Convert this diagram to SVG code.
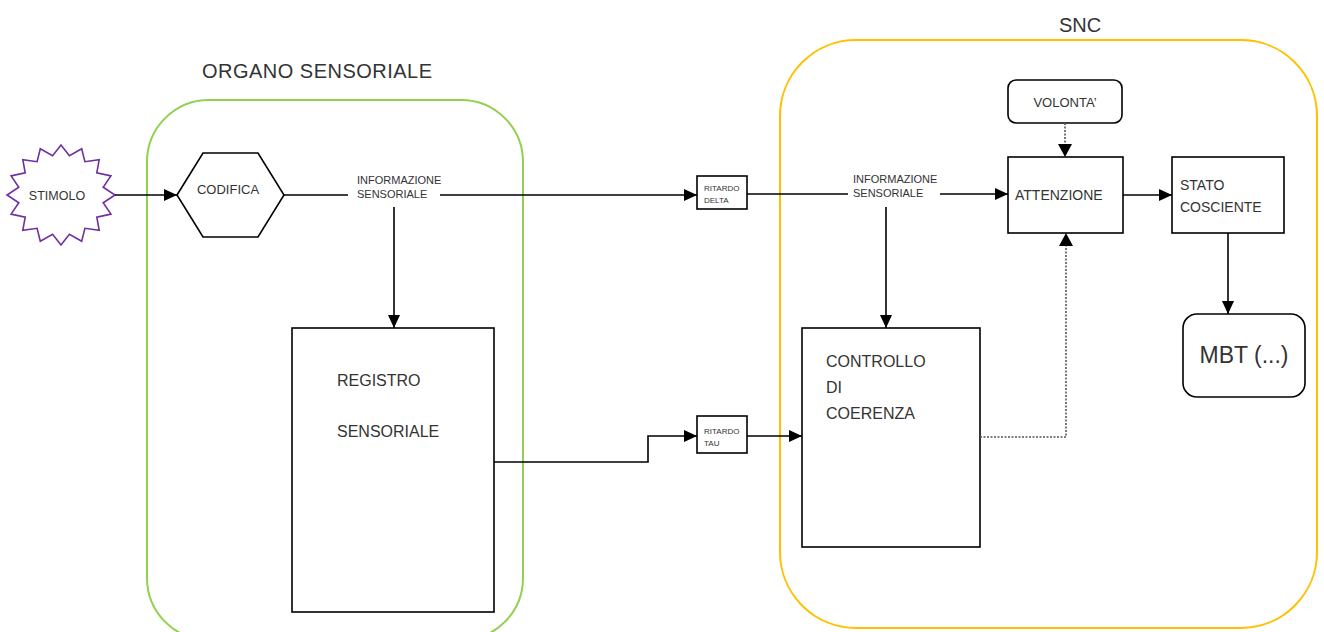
<svg xmlns="http://www.w3.org/2000/svg" width="1324" height="632" viewBox="0 0 1324 632">
<defs>
<marker id="ah" markerUnits="userSpaceOnUse" markerWidth="14" markerHeight="12" refX="13" refY="6" orient="auto">
<path d="M0,0 L13,6 L0,12 Z" fill="#000"/>
</marker>
<style>
text{font-family:"Liberation Sans",Arial,sans-serif;fill:#333}
.box{fill:#fff;stroke:#000;stroke-width:1.6}
.c{fill:none;stroke:#000;stroke-width:1.6}
.d{fill:none;stroke:#555;stroke-width:1.6;stroke-dasharray:2 1.5}
.t{font-size:16px}
.s{font-size:11px}
.xs{font-size:8px}
</style>
</defs>
<rect width="1324" height="632" fill="#fff"/>
<g id="organo-sensoriale">
<rect x="147" y="100" width="376" height="540" rx="62" fill="none" stroke="#92d050" stroke-width="2"/>
<text x="202" y="78" style="font-size:20px" textLength="230">ORGANO SENSORIALE</text>
</g>
<g id="snc">
<rect x="780" y="40" width="537" height="588" rx="76" fill="none" stroke="#ffc000" stroke-width="2"/>
<text x="1080" y="32" text-anchor="middle" style="font-size:20px">SNC</text>
</g>
<g id="stimolo">
<polygon fill="#fff" stroke="#7030a0" stroke-width="1.6" points="115,195 103.2,202.8 110.9,214.1 96.8,217.2 99.2,230.4 84.9,228.3 81.7,241.2 69.4,234.2 61,245 52.6,234.2 40.3,241.2 37.1,228.3 22.8,230.4 25.2,217.2 11.1,214.1 18.8,202.8 7,195 18.8,187.2 11.1,175.9 25.2,172.8 22.8,159.6 37.1,161.7 40.3,148.8 52.6,155.8 61,145 69.4,155.8 81.7,148.8 84.9,161.7 99.2,159.6 96.8,172.8 110.9,175.9 103.2,187.2"/>
<text x="57" y="200" text-anchor="middle" style="font-size:12.5px">STIMOLO</text>
</g>
<g id="codifica">
<polygon class="box" points="177,195 203,153 258,153 284,195 258,237 203,237"/>
<text x="228" y="194" text-anchor="middle" style="font-size:13px">CODIFICA</text>
</g>
<g id="registro-sensoriale">
<rect class="box" x="292" y="328" width="202" height="284"/>
<text x="337" y="386" class="t">REGISTRO</text>
<text x="337" y="437" class="t">SENSORIALE</text>
</g>
<g id="ritardo-delta">
<rect class="box" x="697" y="176" width="50" height="33"/>
<text x="704" y="191" class="xs">RITARDO</text>
<text x="704" y="203" class="xs">DELTA</text>
</g>
<g id="ritardo-tau">
<rect class="box" x="697" y="416" width="50" height="37"/>
<text x="704" y="434" class="xs">RITARDO</text>
<text x="704" y="446" class="xs">TAU</text>
</g>
<g id="controllo-coerenza">
<rect class="box" x="802" y="328" width="178" height="219"/>
<text x="826" y="367" class="t">CONTROLLO</text>
<text x="826" y="393" class="t">DI</text>
<text x="826" y="419" class="t">COERENZA</text>
</g>
<g id="volonta">
<rect class="box" x="1008" y="80" width="114" height="43" rx="8"/>
<text x="1065" y="107" text-anchor="middle" style="font-size:13px">VOLONTA’</text>
</g>
<g id="attenzione">
<rect class="box" x="1008" y="157" width="115" height="76"/>
<text x="1015" y="200" style="font-size:14px">ATTENZIONE</text>
</g>
<g id="stato-cosciente">
<rect class="box" x="1172" y="157" width="112" height="76"/>
<text x="1180" y="190" style="font-size:14px">STATO</text>
<text x="1180" y="212" style="font-size:14px">COSCIENTE</text>
</g>
<g id="mbt">
<rect class="box" x="1183" y="314" width="122" height="83" rx="14"/>
<text x="1244" y="363" text-anchor="middle" style="font-size:23px">MBT (...)</text>
</g>
<g id="connectors">
<path class="c" d="M115,195 H177" marker-end="url(#ah)"/>
<path class="c" d="M284,195 H348 M440,195 H697" marker-end="url(#ah)"/>
<text x="357" y="184" class="s">INFORMAZIONE</text>
<text x="357" y="198" class="s">SENSORIALE</text>
<path class="c" d="M394,207 V328" marker-end="url(#ah)"/>
<path class="c" d="M494,462 H648 V436 H697" marker-end="url(#ah)"/>
<path class="c" d="M747,194 H848 M940,194 H1008" marker-end="url(#ah)"/>
<text x="853" y="183" class="s">INFORMAZIONE</text>
<text x="853" y="197" class="s">SENSORIALE</text>
<path class="c" d="M886,207 V328" marker-end="url(#ah)"/>
<path class="c" d="M747,436 H802" marker-end="url(#ah)"/>
<path class="d" d="M980,437 H1066 V244"/>
<path d="M1059,246 L1066,233 L1073,246 Z" fill="#000"/>
<path class="d" d="M1065,123 V146"/>
<path d="M1058,144 L1065,157 L1072,144 Z" fill="#000"/>
<path class="c" d="M1123,195 H1172" marker-end="url(#ah)"/>
<path class="c" d="M1228,233 V314" marker-end="url(#ah)"/>
</g>
</svg>
